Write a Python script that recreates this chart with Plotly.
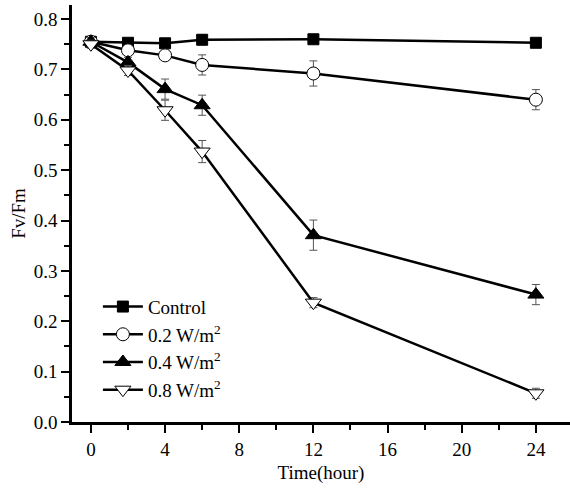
import plotly.graph_objects as go

time = [0, 2, 4, 6, 12, 24]
control = [0.755, 0.753, 0.752, 0.759, 0.760, 0.753]
control_err = [0.008, 0.006, 0.008, 0.010, 0.006, 0.006]
w02 = [0.755, 0.738, 0.728, 0.709, 0.692, 0.640]
w02_err = [0.008, 0.010, 0.010, 0.020, 0.025, 0.020]
w04 = [0.755, 0.714, 0.661, 0.629, 0.371, 0.253]
w04_err = [0.008, 0.010, 0.020, 0.020, 0.030, 0.020]
w08 = [0.750, 0.698, 0.619, 0.537, 0.237, 0.057]
w08_err = [0.008, 0.010, 0.020, 0.022, 0.010, 0.010]

names = ["Control", "0.2 W/m<sup>2</sup>", "0.4 W/m<sup>2</sup>", "0.8 W/m<sup>2</sup>"]
series = [control, w02, w04, w08]
errors = [control_err, w02_err, w04_err, w08_err]
markers = [
    dict(symbol="square", size=11, color="black", line=dict(color="black", width=1)),
    dict(symbol="circle", size=13, color="white", line=dict(color="black", width=1)),
    dict(symbol="triangle-up", size=14, color="black", line=dict(color="black", width=1)),
    dict(symbol="triangle-down", size=14, color="white", line=dict(color="black", width=1)),
]

fig = go.Figure()
for name, ys, err, mk in zip(names, series, errors, markers):
    fig.add_trace(go.Scatter(
        x=time, y=ys, name=name, mode="lines+markers",
        line=dict(color="black", width=2.5),
        marker=mk,
        error_y=dict(type="data", array=err, visible=True, color="#555555",
                     thickness=1, width=4),
    ))

font = "Liberation Serif"
fs = 19
fig.update_layout(
    width=570, height=489,
    margin=dict(l=72, r=0, t=5, b=67),
    paper_bgcolor="white", plot_bgcolor="white",
    font=dict(family=font, size=fs, color="black"),
    showlegend=True,
    legend=dict(x=0.052, y=0.322, xanchor="left", yanchor="top",
                bgcolor="rgba(0,0,0,0)", font=dict(family=font, size=19),
                tracegroupgap=0, itemwidth=40),
    xaxis=dict(
        range=[-1.02, 25.84], tickvals=[0, 4, 8, 12, 16, 20, 24],
        ticks="outside", ticklen=8, tickwidth=2, tickcolor="black",
        showline=True, linecolor="black", linewidth=2.5,
        showgrid=False, zeroline=False,
        minor=dict(tickvals=[2, 6, 10, 14, 18, 22], ticks="outside", ticklen=5,
                   tickwidth=2, tickcolor="black"),
        title=dict(text="Time(hour)", font=dict(family=font, size=fs), standoff=8),
        tickfont=dict(family=font, size=fs),
    ),
    yaxis=dict(
        range=[0, 0.828], tickvals=[0, 0.1, 0.2, 0.3, 0.4, 0.5, 0.6, 0.7, 0.8],
        tickformat=".1f",
        ticks="outside", ticklen=8, tickwidth=2, tickcolor="black",
        showline=True, linecolor="black", linewidth=2.5,
        showgrid=False, zeroline=False,
        minor=dict(tickvals=[0.05, 0.15, 0.25, 0.35, 0.45, 0.55, 0.65, 0.75],
                   ticks="outside", ticklen=5, tickwidth=2, tickcolor="black"),
        title=dict(text="Fv/Fm", font=dict(family=font, size=fs), standoff=4),
        tickfont=dict(family=font, size=fs),
    ),
)

fig.write_html("out.html")
